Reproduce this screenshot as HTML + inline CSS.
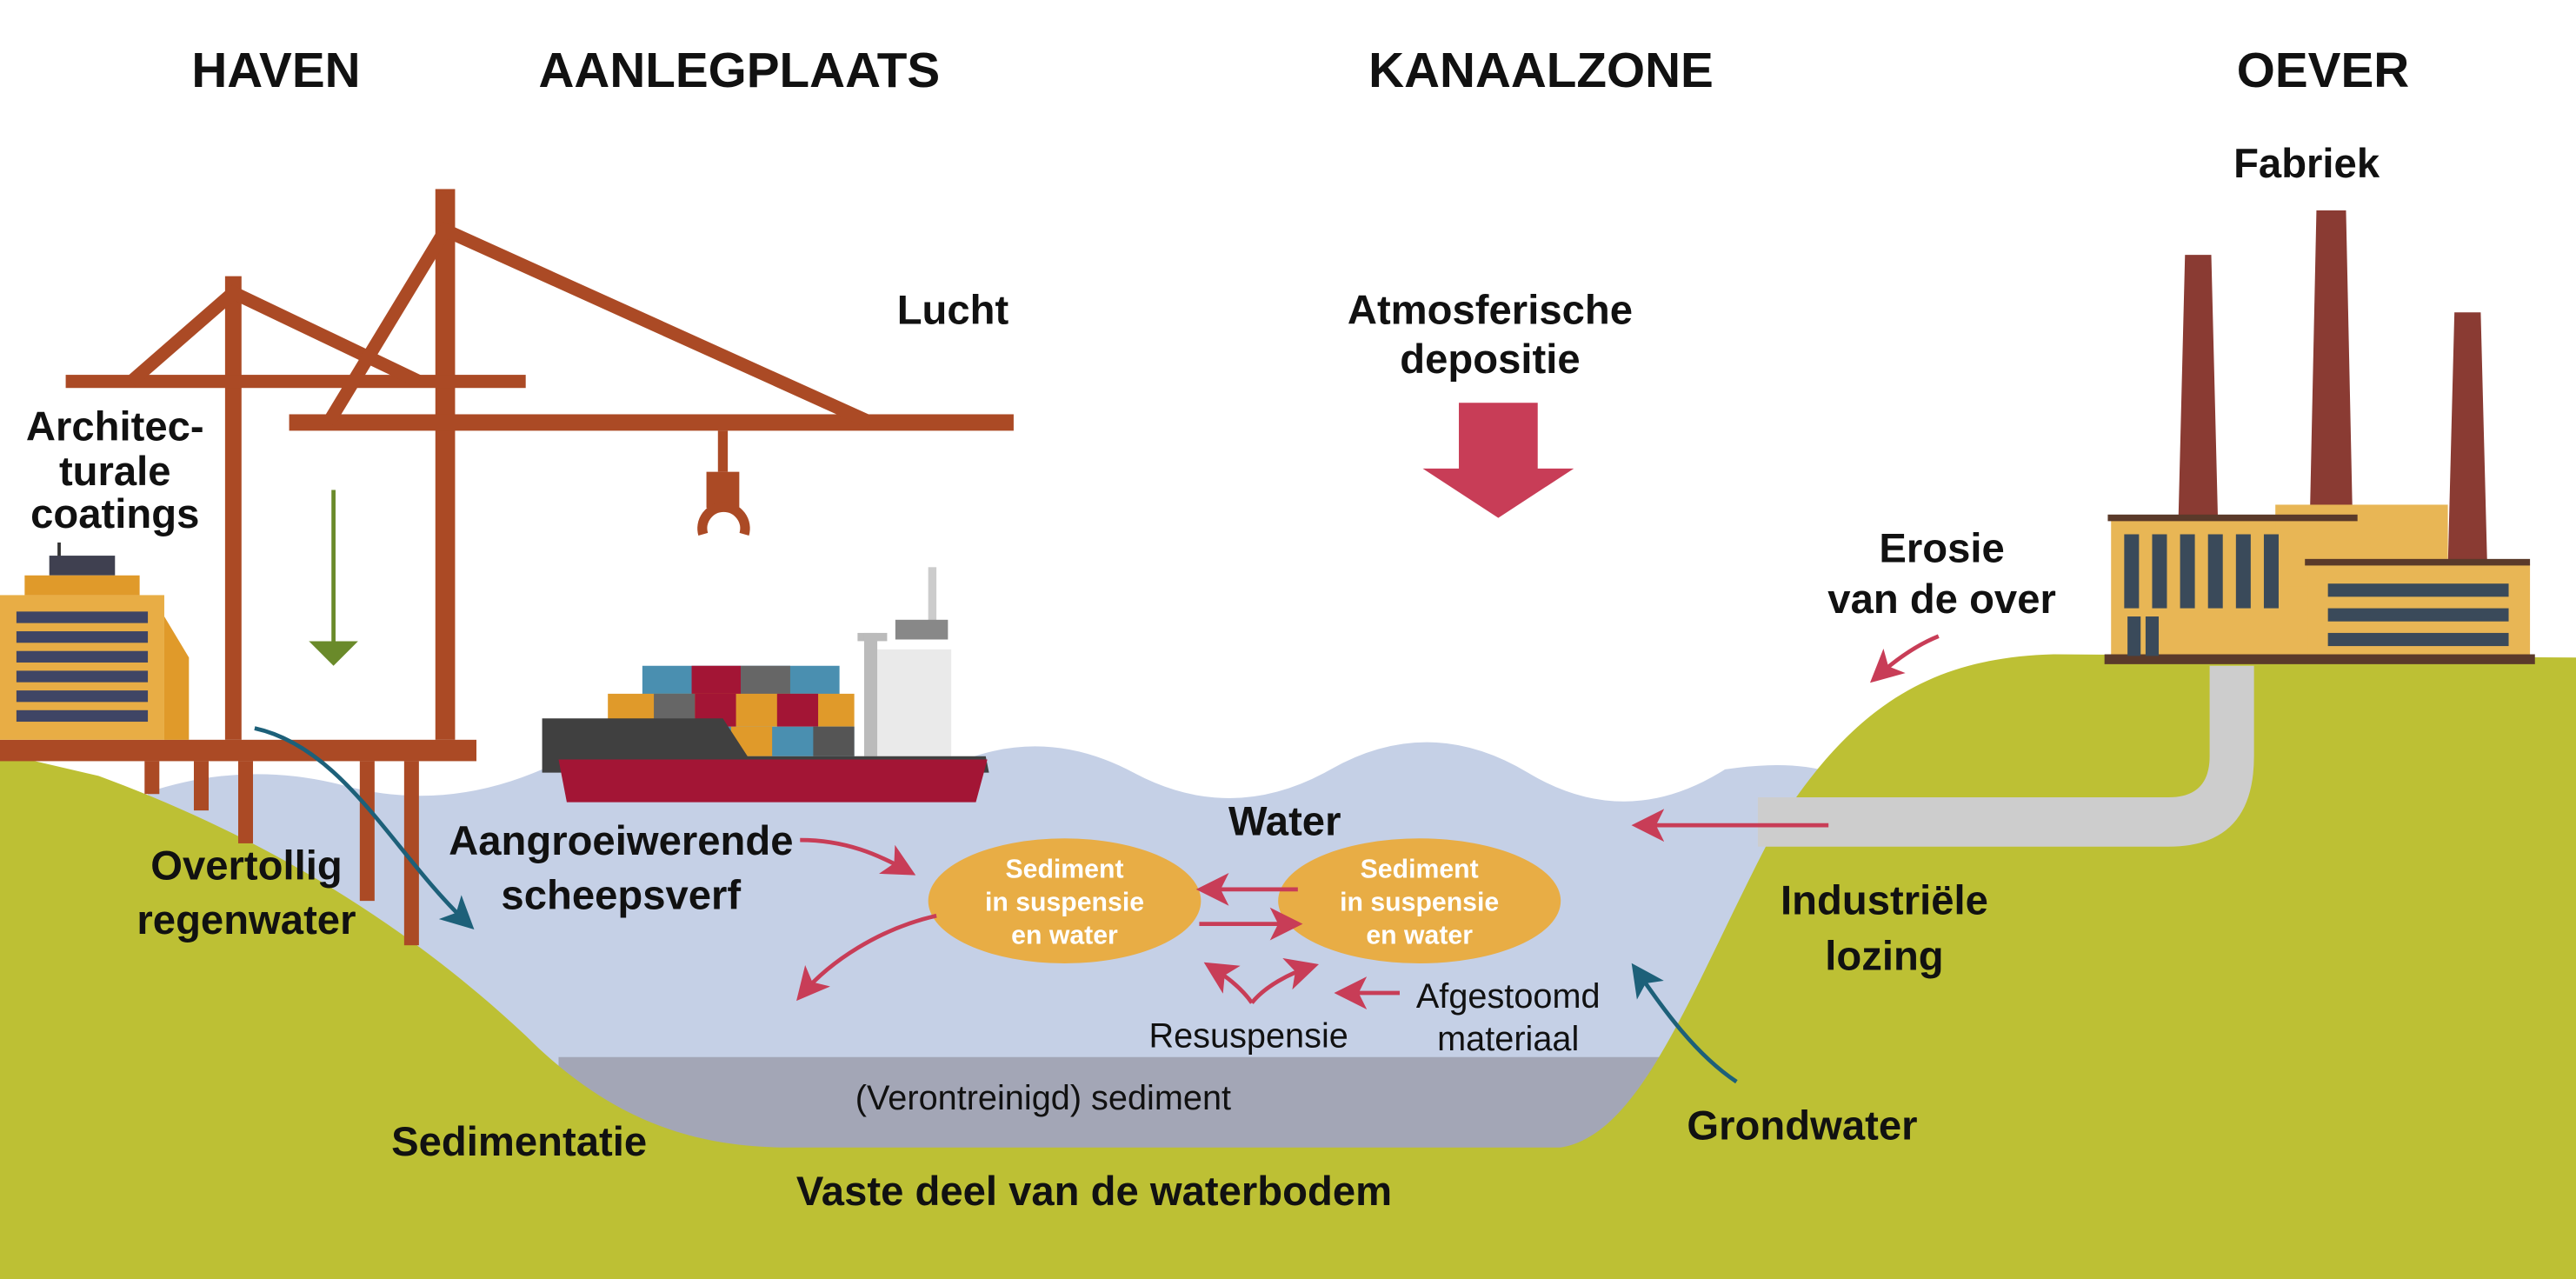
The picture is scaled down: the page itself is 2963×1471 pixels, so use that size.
<!DOCTYPE html>
<html><head><meta charset="utf-8"><style>
html,body{margin:0;padding:0;background:#fff;}
svg{display:block;}
text{font-family:"Liberation Sans",sans-serif;}
.b{font-weight:bold;font-size:25px;fill:#111;text-anchor:middle;}
.t{font-weight:bold;font-size:30px;fill:#111;text-anchor:middle;}
.r{font-size:21px;fill:#111;text-anchor:middle;}
.w{font-weight:bold;font-size:16px;fill:#fff;text-anchor:middle;}
</style></head><body>
<svg width="2963" height="1471" viewBox="0 0 1568 778" preserveAspectRatio="none">
<defs>
<marker id="ar" markerWidth="8" markerHeight="8" refX="6" refY="4" orient="auto" markerUnits="strokeWidth"><path d="M0,0 L8,4 L0,8 L2,4Z" fill="#c83d57"/></marker>
<marker id="ab" markerWidth="8" markerHeight="8" refX="6" refY="4" orient="auto" markerUnits="strokeWidth"><path d="M0,0 L8,4 L0,8 L2,4Z" fill="#1d6079"/></marker>
<marker id="ag" markerWidth="6" markerHeight="12" refX="4" refY="6" orient="auto" markerUnits="strokeWidth"><path d="M0,0 L6,6 L0,12Z" fill="#6a8a2a"/></marker>
</defs>
<!-- water -->
<path d="M90,482 Q150,462 210,478 T330,468 T450,472 T570,470 T690,470 T810,468 T930,470 T1050,468 Q1090,462 1115,470 L1115,705 L90,705Z" fill="#c5d0e6"/>
<path d="M340,643 L1010,643 L1010,705 L340,705Z" fill="#a3a6b6"/>
<!-- ground -->
<path d="M0,458 L60,472 C150,505 240,555 320,630 C370,680 420,698 480,698 L950,698 C1000,690 1030,600 1080,505 C1130,425 1180,400 1250,398 L1568,400 L1568,778 L0,778Z" fill="#bdc034"/>
<!-- pipe -->
<path d="M1070,485 L1320,485 Q1345,485 1345,460 L1345,405 L1372,405 L1372,460 Q1372,515 1320,515 L1070,515Z" fill="#cdcdcd"/>
<!-- cranes -->
<g fill="#ab4a25">
<rect x="0" y="450" width="290" height="13"/>
<rect x="88" y="463" width="9" height="20"/><rect x="118" y="463" width="9" height="30"/><rect x="145" y="463" width="9" height="50"/>
<rect x="219" y="463" width="9" height="85"/><rect x="246" y="463" width="9" height="112"/>
<rect x="137" y="168" width="10" height="282"/><rect x="265" y="115" width="12" height="335"/>
<rect x="40" y="228" width="280" height="8"/><rect x="176" y="252" width="441" height="10"/>
<rect x="437" y="262" width="6" height="25"/><rect x="430" y="287" width="20" height="22"/>
</g>
<g stroke="#ab4a25" stroke-width="8" fill="none">
<path d="M80,232 L142,178 L255,232"/>
<path d="M200,257 L271,140 L530,257"/>
<path d="M428,325 A13,13 0 1 1 453,325" stroke-width="6"/>
</g>
<!-- building -->
<rect x="35" y="330" width="2" height="10" fill="#333"/>
<rect x="30" y="338" width="40" height="12" fill="#3f4050"/>
<rect x="15" y="350" width="70" height="12" fill="#e09a2a"/>
<rect x="0" y="362" width="100" height="88" fill="#e8ad45"/>
<path d="M100,375 L115,400 L115,450 L100,450Z" fill="#e09a2a"/>
<g fill="#3f4565"><rect x="10" y="372" width="80" height="7"/><rect x="10" y="384" width="80" height="7"/><rect x="10" y="396" width="80" height="7"/><rect x="10" y="408" width="80" height="7"/><rect x="10" y="420" width="80" height="7"/><rect x="10" y="432" width="80" height="7"/></g>
<!-- ship -->
<g>
<rect x="391" y="405" width="120" height="20" fill="#4a8fb0"/><rect x="421" y="405" width="30" height="20" fill="#a31535"/><rect x="451" y="405" width="30" height="20" fill="#666"/>
<rect x="370" y="422" width="150" height="20" fill="#e09a2a"/><rect x="398" y="422" width="25" height="20" fill="#666"/><rect x="423" y="422" width="25" height="20" fill="#a31535"/><rect x="473" y="422" width="25" height="20" fill="#a31535"/>
<rect x="425" y="442" width="95" height="18" fill="#4a8fb0"/><rect x="445" y="442" width="25" height="18" fill="#e09a2a"/><rect x="495" y="442" width="25" height="18" fill="#555"/>
<rect x="534" y="395" width="45" height="65" fill="#eaeaea"/><rect x="522" y="385" width="18" height="5" fill="#bbb"/><rect x="526" y="385" width="8" height="75" fill="#bbb"/>
<rect x="565" y="345" width="5" height="40" fill="#ccc"/><rect x="545" y="377" width="32" height="12" fill="#888"/>
<path d="M330,437 L440,437 L455,460 L600,460 L602,470 L330,470Z" fill="#404040"/>
<path d="M340,462 L601,462 L594,488 L345,488Z" fill="#a31535"/>
</g>
<!-- factory -->
<g>
<path d="M1330,155 L1346,155 L1350,315 L1326,315Z" fill="#8a3b33"/>
<path d="M1410,128 L1428,128 L1432,315 L1406,315Z" fill="#8a3b33"/>
<path d="M1494,190 L1510,190 L1514,345 L1490,345Z" fill="#8a3b33"/>
<rect x="1285" y="316" width="150" height="85" fill="#e8b655"/>
<rect x="1385" y="307" width="105" height="50" fill="#e8b655"/>
<rect x="1405" y="343" width="135" height="60" fill="#e8b655"/>
<rect x="1283" y="313" width="152" height="4" fill="#5a3a2a"/><rect x="1403" y="340" width="137" height="4" fill="#5a3a2a"/>
<rect x="1281" y="398" width="262" height="6" fill="#5a3a2a"/>
<g fill="#3a4a5a"><rect x="1293" y="325" width="9" height="45"/><rect x="1310" y="325" width="9" height="45"/><rect x="1327" y="325" width="9" height="45"/><rect x="1344" y="325" width="9" height="45"/><rect x="1361" y="325" width="9" height="45"/><rect x="1378" y="325" width="9" height="45"/>
<rect x="1417" y="355" width="110" height="8"/><rect x="1417" y="370" width="110" height="8"/><rect x="1417" y="385" width="110" height="8"/>
<rect x="1295" y="375" width="8" height="24"/><rect x="1306" y="375" width="8" height="24"/></g>
</g>
<!-- big red arrow -->
<path d="M888,245 L936,245 L936,285 L958,285 L912,315 L866,285 L888,285Z" fill="#c83d57"/>
<!-- ellipses -->
<ellipse cx="648" cy="548" rx="83" ry="38" fill="#e8ad45"/>
<ellipse cx="864" cy="548" rx="86" ry="38" fill="#e8ad45"/>
<text class="w" x="648" y="534">Sediment</text><text class="w" x="648" y="554">in suspensie</text><text class="w" x="648" y="574">en water</text>
<text class="w" x="864" y="534">Sediment</text><text class="w" x="864" y="554">in suspensie</text><text class="w" x="864" y="574">en water</text>
<!-- arrows -->
<g fill="none" stroke-width="2.5">
<path d="M203,298 L203,400" stroke="#6a8a2a" marker-end="url(#ag)"/>
<path d="M155,443 C210,455 240,520 285,562" stroke="#1d6079" marker-end="url(#ab)"/>
<path d="M1057,658 C1030,640 1010,610 996,590" stroke="#1d6079" marker-end="url(#ab)"/>
<path d="M487,511 C515,511 535,520 553,530" stroke="#c83d57" marker-end="url(#ar)"/>
<path d="M570,557 C535,565 505,585 488,605" stroke="#c83d57" marker-end="url(#ar)"/>
<path d="M790,541 L733,541" stroke="#c83d57" marker-end="url(#ar)"/>
<path d="M730,562 L788,562" stroke="#c83d57" marker-end="url(#ar)"/>
<path d="M762,610 C755,600 745,593 737,588" stroke="#c83d57" marker-end="url(#ar)"/>
<path d="M762,610 C770,600 785,592 798,588" stroke="#c83d57" marker-end="url(#ar)"/>
<path d="M852,604 L817,604" stroke="#c83d57" marker-end="url(#ar)"/>
<path d="M1113,502 L998,502" stroke="#c83d57" marker-end="url(#ar)"/>
<path d="M1180,387 C1165,393 1152,403 1142,412" stroke="#c83d57" marker-end="url(#ar)"/>
</g>
<!-- titles -->
<text class="t" x="168" y="53">HAVEN</text>
<text class="t" x="450" y="53">AANLEGPLAATS</text>
<text class="t" x="938" y="53">KANAALZONE</text>
<text class="t" x="1414" y="53">OEVER</text>
<!-- labels -->
<text class="b" x="580" y="197">Lucht</text>
<text class="b" x="907" y="197">Atmosferische</text><text class="b" x="907" y="227">depositie</text>
<text class="b" x="1404" y="108">Fabriek</text>
<text class="b" x="70" y="268">Architec-</text><text class="b" x="70" y="295">turale</text><text class="b" x="70" y="321">coatings</text>
<text class="b" x="1182" y="342">Erosie</text><text class="b" x="1182" y="373">van de over</text>
<text class="b" x="782" y="508">Water</text>
<text class="b" x="378" y="520">Aangroeiwerende</text><text class="b" x="378" y="553">scheepsverf</text>
<text class="b" x="150" y="535">Overtollig</text><text class="b" x="150" y="568">regenwater</text>
<text class="b" x="1147" y="556">Industriële</text><text class="b" x="1147" y="590">lozing</text>
<text class="r" x="918" y="613">Afgestoomd</text><text class="r" x="918" y="639">materiaal</text>
<text class="r" x="760" y="637">Resuspensie</text>
<text class="r" x="635" y="675">(Verontreinigd) sediment</text>
<text class="b" x="1097" y="693">Grondwater</text>
<text class="b" x="316" y="703">Sedimentatie</text>
<text class="b" x="666" y="733">Vaste deel van de waterbodem</text>
</svg>
</body></html>
